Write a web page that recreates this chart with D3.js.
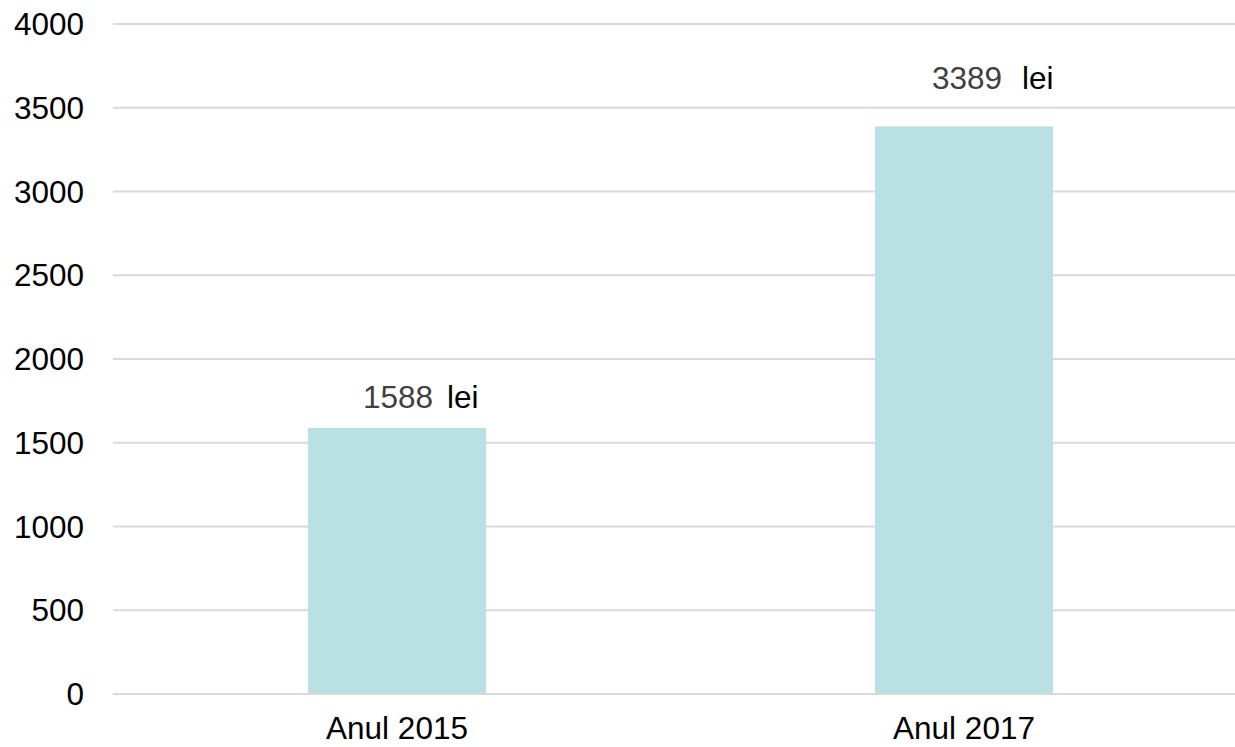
<!DOCTYPE html>
<html>
<head>
<meta charset="utf-8">
<script src="https://cdn.jsdelivr.net/npm/d3@7"></script>
<style>
    body { margin: 0; background: #fff; }
    text { font-family: "Liberation Sans", Arial, sans-serif; }
</style>
</head>
<body>
<svg id="chart" width="1235" height="747"></svg>
<script>
var categories = ["Anul 2015", "Anul 2017"];
var values = [1588, 3389];
var unit = "lei";
var yTicks = [0, 500, 1000, 1500, 2000, 2500, 3000, 3500, 4000];

// labels were nudged by hand in the original, so keep the lift per bar
var labelLift = [20, 37];
var unitGap = [14, 20];

var svg = d3.select("#chart");
var fontSize = 31.5;

var x = d3.scaleBand()
        .domain(categories)
        .range([113.5, 1247.5])
        .paddingInner(0.686)
        .paddingOuter(0.343);

var y = d3.scaleLinear()
        .domain([0, 4000])
        .range([694, 24]);

// grid lines
svg.append("g")
        .selectAll("line")
        .data(yTicks)
        .enter().append("line")
        .attr("x1", 113)
        .attr("x2", 1235)
        .attr("y1", function (d) { return y(d); })
        .attr("y2", function (d) { return y(d); })
        .attr("stroke", "#d9d9d9")
        .attr("stroke-width", 2);

// y tick labels
svg.append("g")
        .selectAll("text")
        .data(yTicks)
        .enter().append("text")
        .attr("x", 84)
        .attr("y", function (d) { return y(d); })
        .attr("dy", "0.35em")
        .attr("text-anchor", "end")
        .attr("font-size", fontSize)
        .attr("fill", "#000")
        .text(function (d) { return d; });

// bars
svg.append("g")
        .selectAll("rect")
        .data(values)
        .enter().append("rect")
        .attr("x", function (d, i) { return x(categories[i]); })
        .attr("width", x.bandwidth())
        .attr("y", function (d) { return y(d); })
        .attr("height", function (d) { return y(0) - y(d); })
        .attr("fill", "#b9e0e3");

// redraw the base line over the bars
svg.append("line")
        .attr("x1", 113)
        .attr("x2", 1235)
        .attr("y1", y(0))
        .attr("y2", y(0))
        .attr("stroke", "#d9d9d9")
        .attr("stroke-width", 2);

// category labels
svg.append("g")
        .selectAll("text")
        .data(categories)
        .enter().append("text")
        .attr("x", function (d) { return x(d) + x.bandwidth() / 2; })
        .attr("y", 739)
        .attr("text-anchor", "middle")
        .attr("font-size", fontSize)
        .attr("fill", "#000")
        .text(function (d) { return d; });

// value labels
var lbl = svg.append("g")
        .selectAll("text")
        .data(values)
        .enter().append("text")
        .attr("x", function (d, i) { return x(categories[i]) + x.bandwidth() / 2 + (i ? -32 : -34); })
        .attr("y", function (d, i) { return y(d) - labelLift[i]; })
        .attr("font-size", fontSize);

lbl.append("tspan")
        .attr("fill", "#404040")
        .text(function (d) { return d; });

lbl.append("tspan")
        .attr("dx", function (d, i) { return unitGap[i]; })
        .attr("fill", "#000")
        .text(unit);
</script>
</body>
</html>
